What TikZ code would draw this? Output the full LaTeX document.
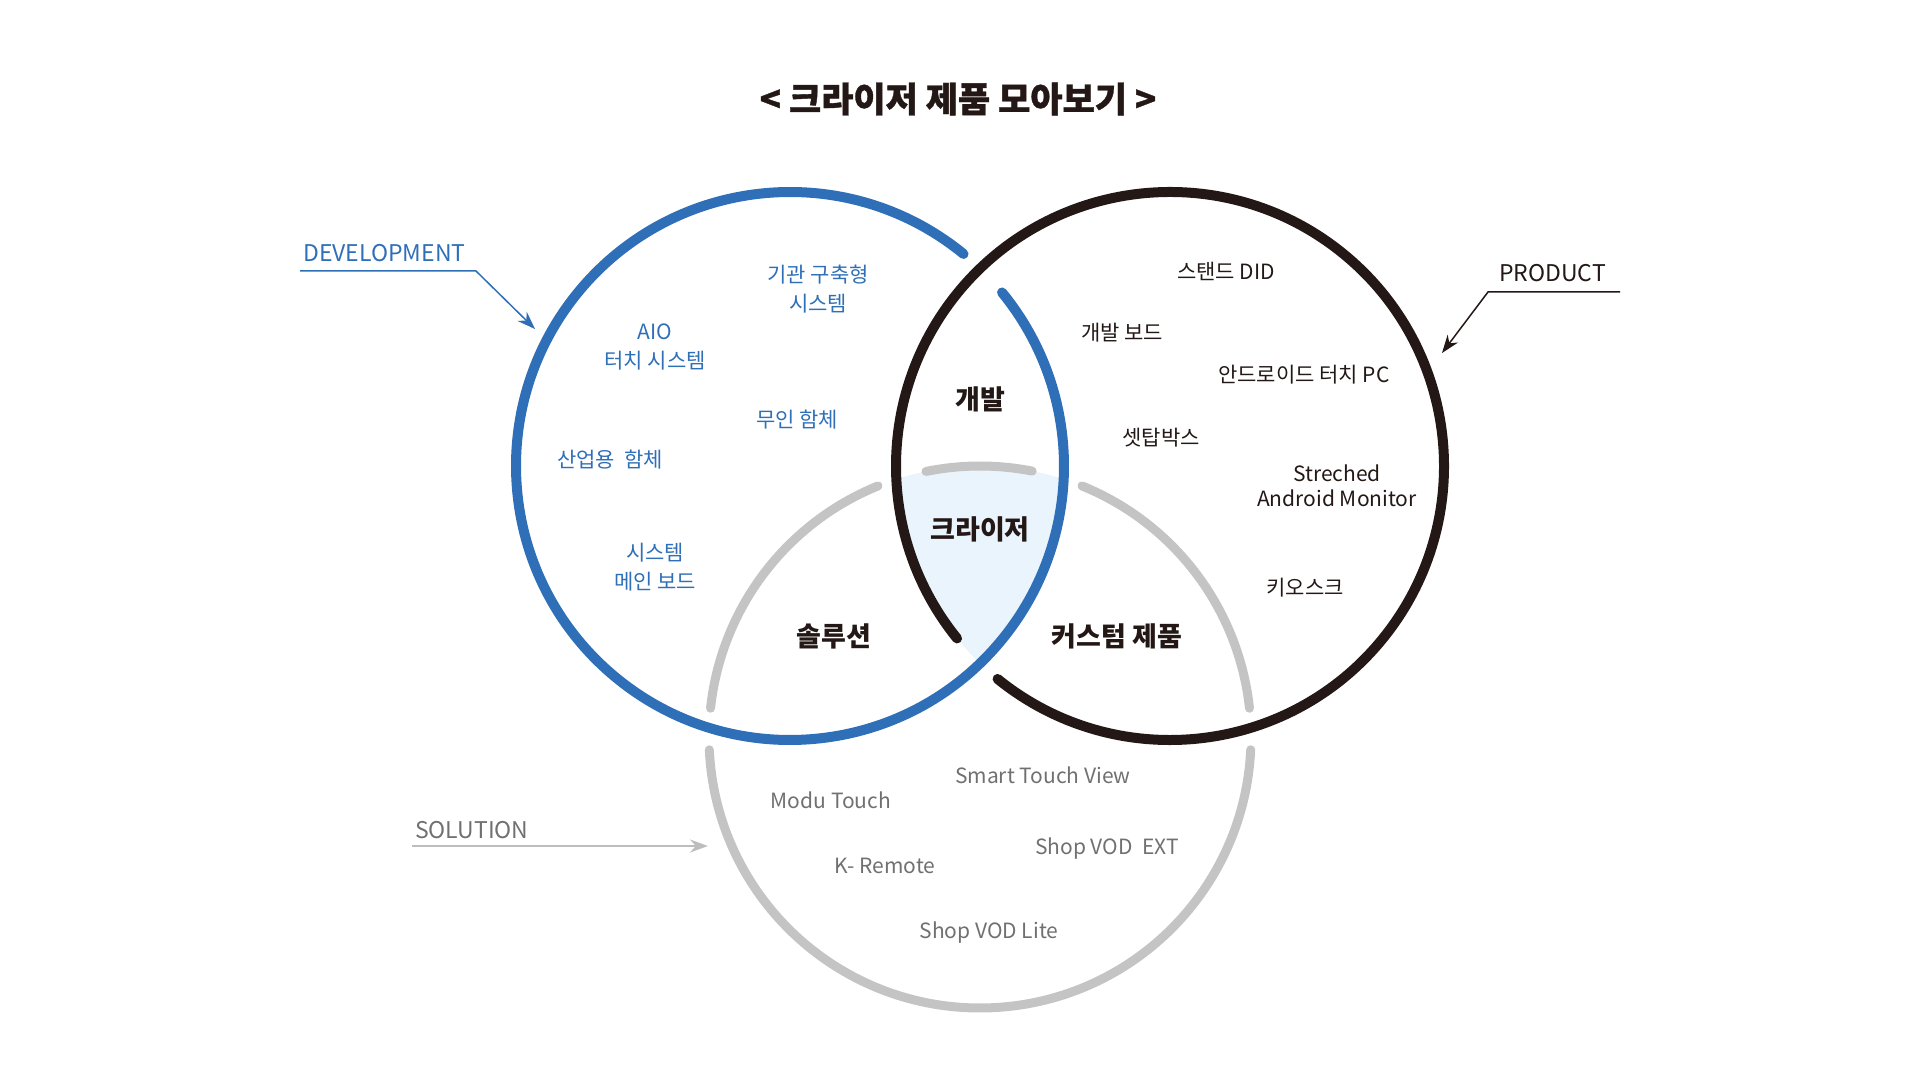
\documentclass[tikz,border=0pt]{standalone}
\usepackage{fontspec}
\setmainfont{Noto Sans CJK KR}
\usetikzlibrary{arrows.meta}
\definecolor{devblue}{HTML}{2F6FB7}
\definecolor{prodblack}{HTML}{231815}
\definecolor{solgray}{HTML}{C4C4C4}
\definecolor{solline}{HTML}{BDBDBD}
\definecolor{soltext}{HTML}{707070}
\definecolor{corefill}{HTML}{EAF4FC}

\begin{document}
\begin{tikzpicture}
  [x=1pt, y=1pt,
   ring/.style={line width=10pt, line cap=round},
   item/.style={align=center, inner sep=0pt, font=\fontsize{21}{29}\selectfont},
   area/.style={inner sep=0pt, text=prodblack, font=\fontsize{27}{30}\selectfont\bfseries},
   tag/.style={anchor=base west, inner sep=0pt, font=\fontsize{23}{28}\selectfont},
   callout/.style={line width=1.5pt, -{Stealth[length=18pt, width=13pt]}}]
  \useasboundingbox (0,0) rectangle (1920,1080);

  \coordinate (dev) at (790,614);
  \coordinate (prod) at (1170,614);
  \coordinate (sol) at (980,343);

  % core area
  \begin{scope}
    \clip (dev) circle (274);
    \clip (prod) circle (274);
    \fill[corefill] (sol) circle (271);
  \end{scope}

  % circles
  \foreach \a/\b in {78.9/101.5, 112.1/173.9, 182.7/357.3, 6.1/67.9}
    \draw[ring, line width=9pt, solgray] (sol) ++(\a:271) arc[start angle=\a, end angle=\b, radius=271];
  \draw[ring, prodblack] (prod) ++(231:274) arc[start angle=231, end angle=579, radius=274];
  \draw[ring, devblue] (dev) ++(50.7:274) arc[start angle=50.7, end angle=399.3, radius=274];

  \node[font=\fontsize{35}{38}\selectfont\bfseries\addfontfeature{FakeBold=1}, text=prodblack] (title) at (958,981) {< 크라이저 제품 모아보기 >};

  % callouts
  \node[tag, text=devblue] (devtag) at (303,818) {DEVELOPMENT};
  \coordinate (devL) at (300,809);
  \coordinate (devR) at (476,809);
  \coordinate (devTip) at (535,751);
  \draw[callout, devblue] (devL) -- (devR) -- (devTip);

  \node[tag, text=prodblack] (prodtag) at (1499,798) {PRODUCT};
  \coordinate (prodR) at (1620,788);
  \coordinate (prodL) at (1488,788);
  \coordinate (prodTip) at (1442,727);
  \draw[callout, prodblack] (prodR) -- (prodL) -- (prodTip);

  \node[tag, text=soltext] (soltag) at (415,242) {SOLUTION};
  \coordinate (solL) at (412,234);
  \coordinate (solTip) at (708,234);
  \draw[callout, solline] (solL) -- (solTip);

  % development
  \node[item, text=devblue] (gigwan) at (818,791) {기관 구축형\\시스템};
  \node[item, text=devblue] (aio) at (655,733) {AIO\\터치 시스템};
  \node[item, text=devblue] (muin) at (797,660) {무인 함체};
  \node[item, text=devblue] (saneop) at (610,620) {산업용\ \ 함체};
  \node[item, text=devblue] (mainboard) at (655,513) {시스템\\메인 보드};

  % product
  \node[item, text=prodblack] (did) at (1226,809) {스탠드 DID};
  \node[item, text=prodblack] (devboard) at (1122,747) {개발 보드};
  \node[item, text=prodblack] (android) at (1304,705) {안드로이드 터치 PC};
  \node[item, text=prodblack] (settop) at (1161,642) {셋탑박스};
  \node[item, text=prodblack, font=\fontsize{21}{25}\selectfont] (monitor) at (1337,594) {Streched\\Android Monitor};
  \node[item, text=prodblack] (kiosk) at (1305,492) {키오스크};

  % solution
  \node[item, text=soltext] (modu) at (831,280) {Modu Touch};
  \node[item, text=soltext] (smart) at (1043,305) {Smart Touch View};
  \node[item, text=soltext] (remote) at (885,214) {K- Remote};
  \node[item, text=soltext] (ext) at (1107,231) {Shop VOD\ \ EXT};
  \node[item, text=soltext] (lite) at (989,147) {Shop VOD Lite};

  % overlaps
  \node[area] (gaebal) at (980,681) {개발};
  \node[area] (crizer) at (980,551) {크라이저};
  \node[area] (solution) at (834,444) {솔루션};
  \node[area] (custom) at (1117,444) {커스텀 제품};
\end{tikzpicture}
\end{document}
